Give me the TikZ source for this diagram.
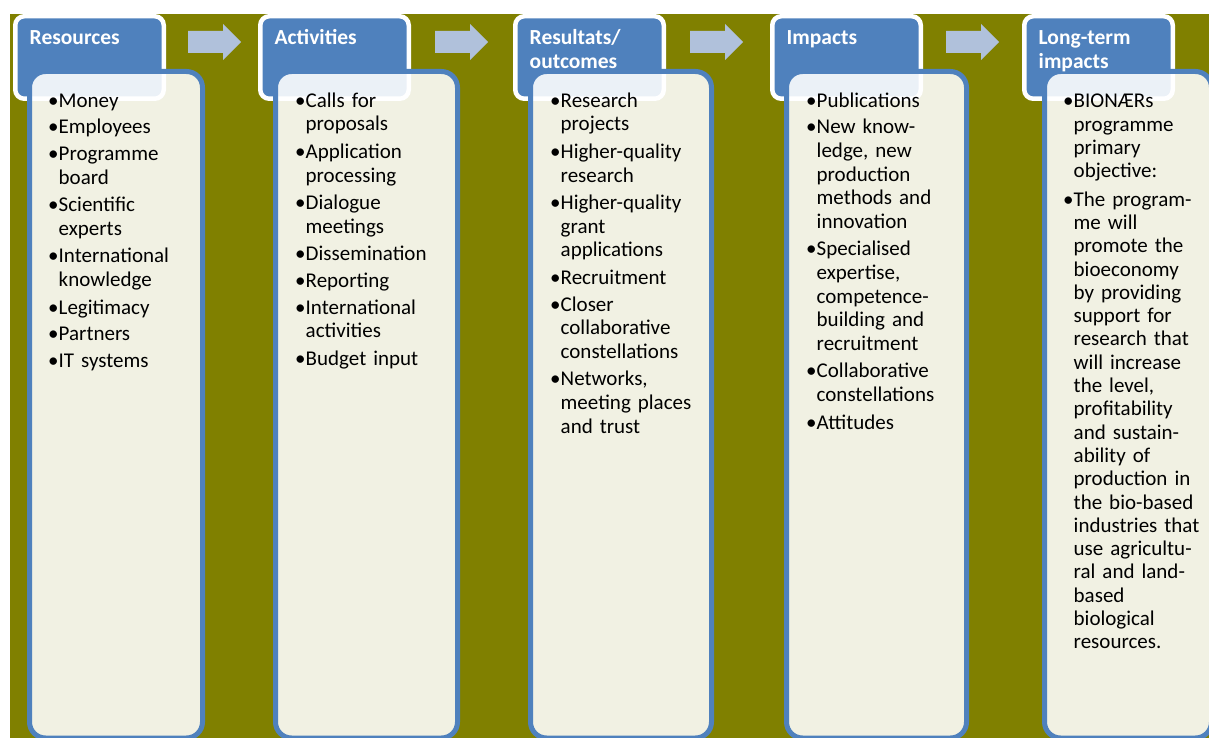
\documentclass[tikz,border=0pt]{standalone}
\usepackage{fontspec}
\setmainfont{Carlito}
\usepackage{xcolor}

\definecolor{olivebg}{HTML}{808000}
\definecolor{hdrblue}{HTML}{4F81BD}
\definecolor{arrowblue}{HTML}{B0C1DB}

\tikzset{
  hdrbox/.style={draw=white, line width=4.5pt, fill=hdrblue, rounded corners=9pt},
  bodybox/.style={draw=hdrblue, line width=5pt, fill=white, fill opacity=0.89, rounded corners=16pt},
  flowarrow/.style={fill=arrowblue, draw=none},
  hdrtext/.style={anchor=north west, inner sep=0pt, text width=135pt, align=left, text=white,
    font=\fontsize{21.5}{23.5}\selectfont\bfseries},
  bodytext/.style={anchor=north west, inner sep=0pt, text width=#1,
    font=\fontsize{21}{23.6}\selectfont\raggedright\setlength{\parskip}{3pt}},
  longtext/.style={bodytext=#1, font=\fontsize{21}{23.3}\selectfont\raggedright\setlength{\parskip}{4pt}},
}
% one bullet item: bullet, then the lines of the item in a hanging block
\newcommand{\bitem}[1]{\par\noindent\makebox[10.5pt][l]{\textbullet}%
  \parbox[t]{\dimexpr\linewidth-10.5pt\relax}{\raggedright\strut#1\strut}}

\begin{document}
\begin{tikzpicture}[x=1pt, y=-1pt]
  \useasboundingbox (0,0) rectangle (1209,738);

  \begin{scope}
    \clip (0,0) rectangle (1209,738);
    % background
    \fill[olivebg] (10,14) rectangle (1209,740);

    % header boxes
    \foreach \hx in {13,258,513,770,1022}
      \draw[hdrbox] (\hx+2.25,16.25) rectangle (\hx+150.75,98.75);

    % block arrows between the columns
    \foreach \ax in {188,435,690,946}
      \fill[flowarrow] (\ax,31) -- (\ax+35,31) -- (\ax+35,24) -- (\ax+53,42)
        -- (\ax+35,60) -- (\ax+35,53) -- (\ax,53) -- cycle;

    % content boxes, cut off at the bottom
    \foreach \cx/\cw in {27/178,273/187,528/186,784/185,1042/172}
      \draw[bodybox] (\cx+2.5,71.5) rectangle (\cx+\cw-2.5,738);
  \end{scope}

  % headers
  \node[hdrtext] (hres) at (29.5,28) {\strut Resources};
  \node[hdrtext] (hact) at (274.5,28) {\strut Activities};
  \node[hdrtext] (hout) at (529.5,28) {\strut Resultats/\\outcomes};
  \node[hdrtext] (himp) at (786.5,28) {\strut Impacts};
  \node[hdrtext] (hlong) at (1038.5,28) {\strut Long-term\\impacts};

  % bullet lists
  \node[bodytext=150pt] (bres) at (48,80.5) {%
    \bitem{Money}
    \bitem{Employees}
    \bitem{Programme\newline board}
    \bitem{Scientific\newline experts}
    \bitem{International\newline knowledge}
    \bitem{Legitimacy}
    \bitem{Partners}
    \bitem{IT systems}};

  \node[bodytext=160pt] (bact) at (295,80.5) {%
    \bitem{Calls for\newline proposals}
    \bitem{Application\newline processing}
    \bitem{Dialogue\newline meetings}
    \bitem{Dissemination}
    \bitem{Reporting}
    \bitem{International\newline activities}
    \bitem{Budget input}};

  \node[bodytext=160pt] (bout) at (550,80.5) {%
    \bitem{Research\newline projects}
    \bitem{Higher-quality\newline research}
    \bitem{Higher-quality\newline grant\newline applications}
    \bitem{Recruitment}
    \bitem{Closer\newline collaborative\newline constellations}
    \bitem{Networks,\newline meeting places\newline and trust}};

  \node[bodytext=160pt] (bimp) at (806,80.5) {%
    \bitem{Publications}
    \bitem{New know-\newline ledge, new\newline production\newline methods and\newline innovation}
    \bitem{Specialised\newline expertise,\newline competence-\newline building and\newline recruitment}
    \bitem{Collaborative\newline constellations}
    \bitem{Attitudes}};

  \node[longtext=150pt] (blong) at (1063,80.5) {%
    \bitem{BIONÆRs\newline programme\newline primary\newline objective:}
    \bitem{The program-\newline me will\newline promote the\newline bioeconomy\newline by providing\newline support for\newline research that\newline will increase\newline the level,\newline profitability\newline and sustain-\newline ability of\newline production in\newline the bio-based\newline industries that\newline use agricultu-\newline ral and land-\newline based\newline biological\newline resources.}};
\end{tikzpicture}
\end{document}
